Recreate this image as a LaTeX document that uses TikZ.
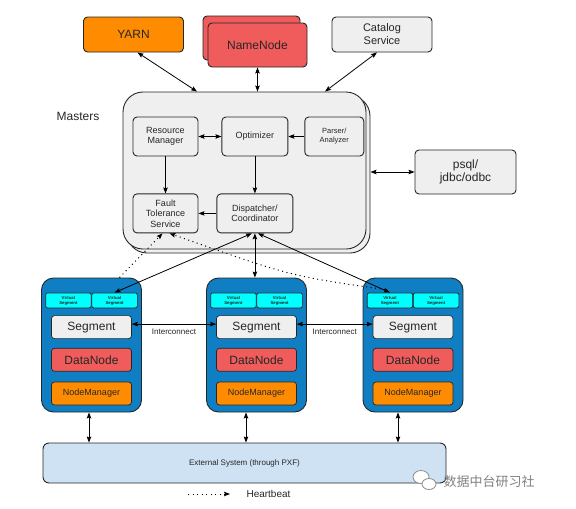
\documentclass[tikz,border=0pt]{standalone}
\usepackage{fontspec}
\setmainfont{Liberation Sans}
\newfontfamily\cjkfont{Noto Sans CJK SC}
\usetikzlibrary{positioning,arrows.meta}
\definecolor{hawqorange}{HTML}{FF8C00}
\definecolor{hawqred}{HTML}{F05C5C}
\definecolor{hawqgray}{HTML}{EFEFEF}
\definecolor{hawqblue}{HTML}{107EC3}
\definecolor{hawqcyan}{HTML}{00FFFF}
\definecolor{hawqsky}{HTML}{CFE2F3}
\definecolor{hawqtext}{HTML}{262626}
\tikzset{
>={Stealth[length=6pt,width=4.5pt,inset=1pt]},
every node/.style={text=hawqtext},
box/.style={draw=black!85, line width=0.9pt, rounded corners=4pt, inner sep=0pt, align=center},
service/.style={box, minimum width=100pt, minimum height=35pt, font=\fontsize{12}{13}\selectfont},
master/.style={box, fill=hawqgray, rounded corners=20pt, minimum width=243pt, minimum height=157pt},
module/.style={box, fill=hawqgray, minimum height=39pt, font=\fontsize{9}{10.5}\selectfont},
block/.style={box, fill=hawqblue, rounded corners=12pt, minimum width=100pt, minimum height=134pt},
vseg/.style={box, fill=hawqcyan, line width=0.7pt, rounded corners=2pt, minimum width=45.5pt, minimum height=15pt, font=\fontsize{4.3}{5}\selectfont\bfseries},
part/.style={box, line width=0.7pt, rounded corners=3pt, minimum width=80pt, minimum height=23pt, font=\fontsize{12}{13}\selectfont},
link/.style={<->, line width=0.8pt},
flow/.style={->, line width=0.8pt},
beat/.style={->, line width=1pt, dash pattern=on 1pt off 3.5pt},
}
\begin{document}
\begin{tikzpicture}[x=1pt,y=-1pt]
    \useasboundingbox (0,0) rectangle (576,509);

    % services on top
    \node[service, fill=hawqorange] (yarn) at (133.5,34.5) {YARN};
    \node[service, fill=hawqred, minimum width=97pt, minimum height=44pt] (nnback) at (251.5,38) {};
    \node[service, fill=hawqred, minimum width=99pt, minimum height=44pt] (nn) at (257.5,45) {NameNode};
    \node[service, fill=hawqgray, font=\fontsize{11}{13}\selectfont] (cat) at (382,34.5) {Catalog\\Service};

    % masters
    \node[master] (mback) at (248.5,174.5) {};
    \node[master] (mfront) at (244.5,170.5) {};
    \node[font=\fontsize{12}{14}\selectfont] (mlabel) at (78,116) {Masters};
    \node[module, minimum width=65pt] (rm) at (165.5,136.5) {Resource\\Manager};
    \node[module, minimum width=66pt, right=23pt of rm] (opt) {Optimizer};
    \node[module, minimum width=59pt, right=16pt of opt, font=\fontsize{7.5}{9}\selectfont] (parser) {Parser/\\Analyzer};
    \node[module, minimum width=65pt, below=37pt of rm] (fts) {Fault\\Tolerance\\Service};
    \node[module, minimum width=76pt, below=37pt of opt] (disp) {Dispatcher/\\Coordinator};
    \node[service, fill=hawqgray, minimum width=101pt, minimum height=44pt] (psql) at (465.5,172) {psql/\\jdbc/odbc};

    % segment hosts
    \node[block] (l) at (91.5,345) {};
    \node[vseg, below=15pt of l.north, anchor=north east] (l1) {Virtual\\Segment};
    \node[vseg, right=0pt of l1] (l2) {Virtual\\Segment};
    \node[part, fill=hawqgray, below=7pt of l1.south east] (ls) {Segment};
    \node[part, fill=hawqred, below=9pt of ls] (ld) {DataNode};
    \node[part, fill=hawqorange, below=10pt of ld, font=\fontsize{9}{10}\selectfont] (ln) {NodeManager};

    \node[block] (m) at (256.5,345) {};
    \node[vseg, below=15pt of m.north, anchor=north east] (m1) {Virtual\\Segment};
    \node[vseg, right=0pt of m1] (m2) {Virtual\\Segment};
    \node[part, fill=hawqgray, below=7pt of m1.south east] (ms) {Segment};
    \node[part, fill=hawqred, below=9pt of ms] (md) {DataNode};
    \node[part, fill=hawqorange, below=10pt of md, font=\fontsize{9}{10}\selectfont] (mn) {NodeManager};

    \node[block] (r) at (413,345) {};
    \node[vseg, below=15pt of r.north, anchor=north east] (r1) {Virtual\\Segment};
    \node[vseg, right=0pt of r1] (r2) {Virtual\\Segment};
    \node[part, fill=hawqgray, below=7pt of r1.south east] (rs) {Segment};
    \node[part, fill=hawqred, below=9pt of rs] (rd) {DataNode};
    \node[part, fill=hawqorange, below=10pt of rd, font=\fontsize{9}{10}\selectfont] (rn) {NodeManager};

    \node[box, fill=hawqsky, rounded corners=6pt, minimum width=403pt, minimum height=40pt, font=\fontsize{8}{9}\selectfont] (ext) at (244.5,463) {External System (through PXF)};

    % connectors
    \draw[link] ([xshift=4pt]yarn.south) -- ([xshift=-47.5pt]mfront.north);
    \draw[link] (nn.south) -- (nn.south |- mfront.north);
    \draw[link] ([xshift=-5pt]cat.south) -- ([xshift=80.5pt]mfront.north);
    \draw[link] (psql.west -| mback.east) -- (psql.west);

    \draw[link] (rm) -- (opt);
    \draw[flow] (parser) -- (opt);
    \draw[flow] (rm) -- (fts);
    \draw[flow] (opt) -- (disp);
    \draw[flow] (disp) -- (fts);

    \draw[link] ([xshift=-3pt]disp.south) -- (l2.north);
    \draw[link] (disp.south) -- (disp.south |- m.north);
    \draw[link] ([xshift=3pt]disp.south) -- (r1.north);

    \coordinate (hbbend) at (290,276);
    \draw[beat] ([xshift=28pt]l.north) -- ([xshift=-3pt]fts.south);
    \draw[beat] ([xshift=-5pt,yshift=3pt]r1.north) .. controls (hbbend) .. ([xshift=4pt]fts.south);

    \draw[<->, line width=0.6pt] ([yshift=3pt]ls.east) -- node[below=1pt, font=\fontsize{8}{9}\selectfont] {Interconnect} ([yshift=3pt]ms.west);
    \draw[<->, line width=0.6pt] ([yshift=3pt]ms.east) -- node[below=1pt, font=\fontsize{8}{9}\selectfont] {Interconnect} ([yshift=3pt]rs.west);

    \coordinate (lx) at ([xshift=-2.5pt]l.south);
    \coordinate (mx) at ([xshift=-10.5pt]m.south);
    \coordinate (rx) at ([xshift=-15pt]r.south);
    \draw[link] (lx) -- (lx |- ext.north);
    \draw[link] (mx) -- (mx |- ext.north);
    \draw[link] (rx) -- (rx |- ext.north);

    % legend
    \node[font=\fontsize{10}{12}\selectfont, anchor=west] (hb) at (243,494) {Heartbeat};
    \coordinate (hb0) at (188,494);
    \draw[beat] (hb0) -- ([xshift=-13pt]hb.west);

    % watermark
    \draw[black!45, fill=white, line width=0.8pt] (421,477) ellipse (8 and 6.5);
    \draw[black!45, fill=white, line width=0.8pt] (429,484) ellipse (7 and 5.5);
    \node[text=black!50, font=\cjkfont\fontsize{13}{14}\selectfont, anchor=west] (wm) at (440,482) {数据中台研习社};

\end{tikzpicture}
\end{document}
